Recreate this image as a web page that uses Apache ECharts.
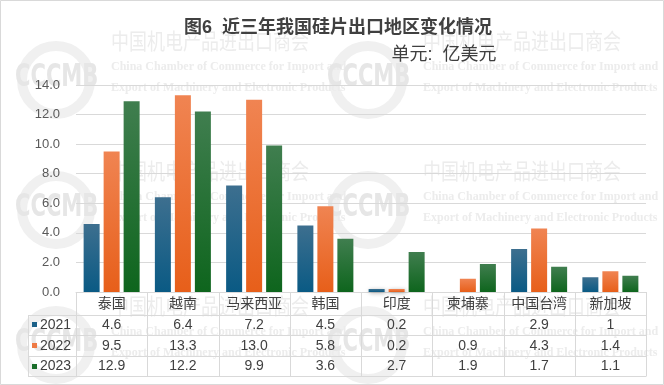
<!DOCTYPE html>
<html>
<head>
<meta charset="utf-8">
<script src="https://cdn.jsdelivr.net/npm/echarts@6/dist/echarts.min.js"></script>
<style>html,body{margin:0;padding:0;background:#fff}#c{width:664px;height:385px}</style>
</head>
<body>
<div id="c"></div>
<script>
const categories = ['泰国','越南','马来西亚','韩国','印度','柬埔寨','中国台湾','新加坡'];
const years = ['2021','2022','2023'];
const s2021 = ['4.6','6.4','7.2','4.5','0.2',null,'2.9','1'];
const s2022 = ['9.5','13.3','13.0','5.8','0.2','0.9','4.3','1.4'];
const s2023 = ['12.9','12.2','9.9','3.6','2.7','1.9','1.7','1.1'];
const yTicks = [0,2,4,6,8,10,12,14];

const FONT = "'Liberation Sans','Noto Sans CJK SC',sans-serif";
const grads = [['#3d6f8f','#0a5a84'],['#f08452','#e75f1a'],['#407e4f','#0e651d']];
const swatch = ['#1c6188','#ee7a45','#1a6e2a'];
const seriesData = [s2021, s2022, s2023];

const chart = echarts.init(document.getElementById('c'), null, {renderer:'canvas'});
chart.setOption({
  animation:false,
  backgroundColor:'#ffffff',
  title:[
    {text:'图6  近三年我国硅片出口地区变化情况', left:333, top:14, textAlign:'center',
     textStyle:{fontFamily:FONT, fontSize:18, fontWeight:'bold', color:'#404040'}},
    {text:'单元:  亿美元', left:439, top:41, textAlign:'center',
     textStyle:{fontFamily:FONT, fontSize:18, fontWeight:'normal', color:'#404040'}}
  ],
  grid:{left:76, right:18, top:85, bottom:93, containLabel:false},
  xAxis:{type:'category', data:categories,
    axisLine:{show:true, lineStyle:{color:'#d9d9d9', width:1}},
    axisTick:{show:false},
    axisLabel:{fontFamily:FONT, fontSize:14, color:'#404040', margin:5, interval:0}
  },
  yAxis:{type:'value', min:0, max:14, interval:2,
    axisLine:{show:false}, axisTick:{show:false},
    splitLine:{lineStyle:{color:'#d9d9d9', width:1}},
    axisLabel:{fontFamily:FONT, fontSize:13, color:'#595959', margin:16,
      formatter:v=>yTicks.includes(v)?v.toFixed(1):''}
  },
  series: years.map((y,i)=>({
    name:y, type:'bar', data:seriesData[i], barWidth:16, barGap:'25%',
    itemStyle:{
      color:new echarts.graphic.LinearGradient(0,0,0,1,[{offset:0,color:grads[i][0]},{offset:1,color:grads[i][1]}]),
      shadowBlur:4, shadowColor:'rgba(0,0,0,0.35)', shadowOffsetX:1, shadowOffsetY:1
    },
    z:3
  }))
});

// Build watermark + data table
const g = [];
const wmC = '#ececec';
[[0,0],[312,0],[0,130],[312,130],[0,265],[312,265]].forEach(([dx,dy])=>{
  g.push({type:'circle', silent:true, z:-10, shape:{cx:56+dx, cy:80+dy, r:34},
    style:{fill:'none', stroke:'#f0f0f0', lineWidth:10}});
  g.push({type:'text', silent:true, z:-9, x:15+dx, y:62+dy, scaleX:0.78, scaleY:1.05,
    style:{text:'CCCMB', font:"bold 30px 'DejaVu Sans Condensed',sans-serif", fill:'#e6e6e6'}});
  g.push({type:'text', silent:true, z:-9, x:111+dx, y:30+dy, scaleY:1.2,
    style:{text:'中国机电产品进出口商会', font:"18px 'Noto Sans CJK SC',sans-serif", fill:wmC}});
  g.push({type:'text', silent:true, z:-9, x:111+dx, y:61+dy,
    style:{text:'China Chamber of Commerce for Import and', font:"bold 12px 'Liberation Serif',serif", fill:wmC}});
  g.push({type:'text', silent:true, z:-9, x:111+dx, y:82+dy,
    style:{text:'Export of Machinery and Electronic Products', font:"bold 12px 'Liberation Serif',serif", fill:wmC}});
});
g.push({type:'rect', silent:true, z:50, shape:{x:0.5,y:0.5,width:663,height:384},
  style:{fill:'none', stroke:'#d9d9d9', lineWidth:1}});

const x0 = chart.convertToPixel({xAxisIndex:0}, 0);
const x1 = chart.convertToPixel({xAxisIndex:0}, 1);
const colW = x1 - x0;
const gridL = x0 - colW/2;
const gridR = gridL + colW*categories.length;
const yAxisPix = chart.convertToPixel({yAxisIndex:0}, 0);
const tblLeft = 28;
const rowTop = 314.5;
const rowH = 20.6;
const lineC = '#d9d9d9';
const tblBottom = rowTop + rowH*3;
for (let r=0;r<=3;r++){
  const y = Math.round(rowTop + rowH*r)+0.5;
  g.push({type:'line', silent:true, z:20, shape:{x1:tblLeft, y1:y, x2:gridR, y2:y}, style:{stroke:lineC, lineWidth:1}});
}
for (let c=0;c<=categories.length;c++){
  const x = Math.round(gridL + colW*c)+0.5;
  g.push({type:'line', silent:true, z:20, shape:{x1:x, y1:yAxisPix, x2:x, y2:Math.round(tblBottom)+0.5}, style:{stroke:lineC, lineWidth:1}});
}
g.push({type:'line', silent:true, z:20, shape:{x1:tblLeft+0.5, y1:Math.round(rowTop)+0.5, x2:tblLeft+0.5, y2:Math.round(tblBottom)+0.5}, style:{stroke:lineC, lineWidth:1}});
years.forEach((y,r)=>{
  const cy = rowTop + rowH*r + rowH/2 + 0.5;
  g.push({type:'rect', silent:true, z:21, shape:{x:32, y:Math.round(cy)-3, width:5, height:5}, style:{fill:swatch[r]}});
  g.push({type:'text', silent:true, z:21, x:40, y:cy,
    style:{text:y, font:"14px 'Liberation Sans',sans-serif", fill:'#404040', verticalAlign:'middle', align:'left'}});
  seriesData[r].forEach((v,i)=>{
    if (v===null) return;
    const cx = chart.convertToPixel({xAxisIndex:0}, i);
    g.push({type:'text', silent:true, z:21, x:cx, y:cy,
      style:{text:String(v), font:"14px 'Liberation Sans',sans-serif", fill:'#404040', align:'center', verticalAlign:'middle'}});
  });
});
chart.setOption({graphic:g});
</script>
</body>
</html>
